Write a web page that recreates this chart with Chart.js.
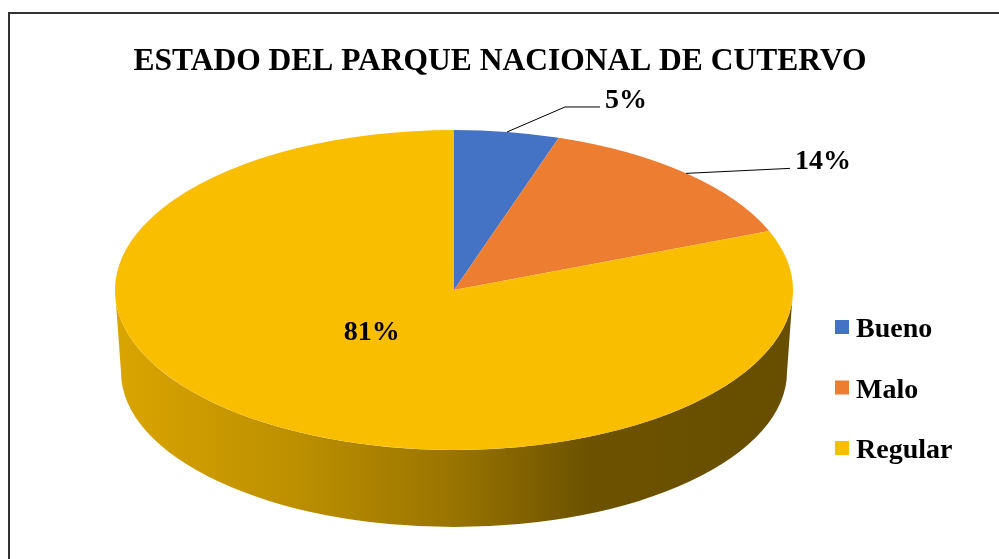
<!DOCTYPE html>
<html>
<head>
<meta charset="utf-8">
<script src="https://cdn.jsdelivr.net/npm/chart.js@4.4.0/dist/chart.umd.min.js"></script>
<style>
  body { margin: 0; background: #fff; }
  #wrap { position: relative; width: 999px; height: 559px; overflow: hidden; }
  #frame { position: absolute; left: 8px; top: 12px; right: -10px; bottom: -10px;
           border-top: 2px solid #333; border-left: 2px solid #333; }
  canvas { position: absolute; left: 0; top: 0; }
</style>
</head>
<body>
<div id="wrap">
  <div id="frame"></div>
  <canvas id="pieChart" width="999" height="559"></canvas>
</div>
<script>
// Données du graphique
const chartTitle = 'ESTADO DEL PARQUE NACIONAL DE CUTERVO';
const categories = ['Bueno', 'Malo', 'Regular'];
const percentages = [5, 14, 81];
const sliceColors = ['#4472C4', '#ED7D31', '#FABE00'];

// Placement des étiquettes (ligne de rappel ou intérieur)
const labelLeaders = [
    { outside: true, dx: 58, dy: -25, run: 35 },
    { outside: true, dx: 104, dy: -5, run: 0 },
    { outside: false }
];

const serif = '"Liberation Serif", "Times New Roman", serif';

// Assombrir une couleur hex
function shade(hex, f) {
    const n = parseInt(hex.slice(1), 16);
    const r = Math.round(((n >> 16) & 255) * f);
    const g = Math.round(((n >> 8) & 255) * f);
    const b = Math.round((n & 255) * f);
    return 'rgb(' + r + ',' + g + ',' + b + ')';
}

// Parties visibles (face avant) d'un arc
function frontRanges(start, end) {
    const out = [];
    for (let k = -1; k <= 1; k++) {
        const off = 2 * Math.PI * k;
        const lo = Math.max(start, off);
        const hi = Math.min(end, Math.PI + off);
        if (hi > lo) out.push([lo, hi]);
    }
    return out;
}

// Effet 3D : côté du cylindre + ellipse
const pie3d = {
    id: 'pie3d',
    beforeDatasetsDraw(chart) {
        const ctx = chart.ctx;
        const area = chart.chartArea;
        const arcs = chart.getDatasetMeta(0).data;
        const cx = arcs[0].x, cy = arcs[0].y, r = arcs[0].outerRadius;
        const rx = (area.right - area.left) / 2, ry = r;
        const depth = 82;

        arcs.forEach((arc, i) => {
            frontRanges(arc.startAngle, arc.endAngle).forEach(([a0, a1]) => {
                ctx.beginPath();
                ctx.ellipse(cx, cy, rx, ry, 0, a0, a1);
                ctx.ellipse(cx, cy + depth, rx - 6, ry - 5, 0, a1, a0, true);
                ctx.closePath();
                const grad = ctx.createLinearGradient(cx - rx, 0, cx + rx, 0);
                const base = sliceColors[i];
                grad.addColorStop(0, shade(base, 0.87));
                grad.addColorStop(0.27, shade(base, 0.75));
                grad.addColorStop(0.5, shade(base, 0.61));
                grad.addColorStop(0.7, shade(base, 0.43));
                grad.addColorStop(1, shade(base, 0.41));
                ctx.fillStyle = grad;
                ctx.fill();
            });
        });

        // étirement horizontal du disque
        ctx.save();
        ctx.translate(cx, cy);
        ctx.scale(rx / r, 1);
        ctx.translate(-cx, -cy);
    },
    afterDatasetsDraw(chart) {
        const ctx = chart.ctx;
        ctx.restore();

        const area = chart.chartArea;
        const arcs = chart.getDatasetMeta(0).data;
        const cx = arcs[0].x, cy = arcs[0].y, r = arcs[0].outerRadius;
        const rx = (area.right - area.left) / 2, ry = r;

        ctx.save();
        ctx.fillStyle = '#000';
        ctx.strokeStyle = '#000';
        ctx.lineWidth = 1;

        // Titre
        ctx.font = 'bold 31.5px ' + serif;
        ctx.textAlign = 'center';
        ctx.textBaseline = 'alphabetic';
        ctx.fillText(chartTitle, 500, 70);

        // Étiquettes de pourcentage
        ctx.font = 'bold 28px ' + serif;
        arcs.forEach((arc, i) => {
            const mid = (arc.startAngle + arc.endAngle) / 2;
            const text = percentages[i] + '%';
            const lead = labelLeaders[i];
            if (lead.outside) {
                const ax = cx + rx * Math.cos(mid);
                const ay = cy + ry * Math.sin(mid);
                const ex = ax + lead.dx, ey = ay + lead.dy;
                ctx.beginPath();
                ctx.moveTo(ax, ay);
                ctx.lineTo(ex, ey);
                ctx.lineTo(ex + lead.run, ey);
                ctx.stroke();
                ctx.textAlign = 'left';
                ctx.textBaseline = 'alphabetic';
                ctx.fillText(text, ex + lead.run + 5, ey + 1);
            } else {
                const k = 0.4 * r;
                ctx.textAlign = 'center';
                ctx.textBaseline = 'middle';
                ctx.fillText(text, cx + k * (rx / r) * Math.cos(mid) - 6, cy + k * Math.sin(mid) - 10);
            }
        });

        // Légende
        ctx.textAlign = 'left';
        ctx.textBaseline = 'alphabetic';
        categories.forEach((name, i) => {
            const base = 337 + i * 60.5;
            ctx.fillStyle = sliceColors[i];
            ctx.fillRect(835, base - 17, 14, 14);
            ctx.fillStyle = '#000';
            ctx.fillText(name, 856, base);
        });
        ctx.restore();
    }
};

new Chart(document.getElementById('pieChart').getContext('2d'), {
    type: 'pie',
    data: {
        labels: categories,
        datasets: [{
            data: percentages,
            backgroundColor: sliceColors,
            borderWidth: 0,
            clip: false
        }]
    },
    options: {
        responsive: false,
        animation: false,
        events: [],
        layout: {
            padding: { left: 115, right: 206, top: 130, bottom: 109 }
        },
        plugins: {
            legend: { display: false },
            tooltip: { enabled: false },
            title: { display: false }
        }
    },
    plugins: [pie3d]
});
</script>
</body>
</html>
